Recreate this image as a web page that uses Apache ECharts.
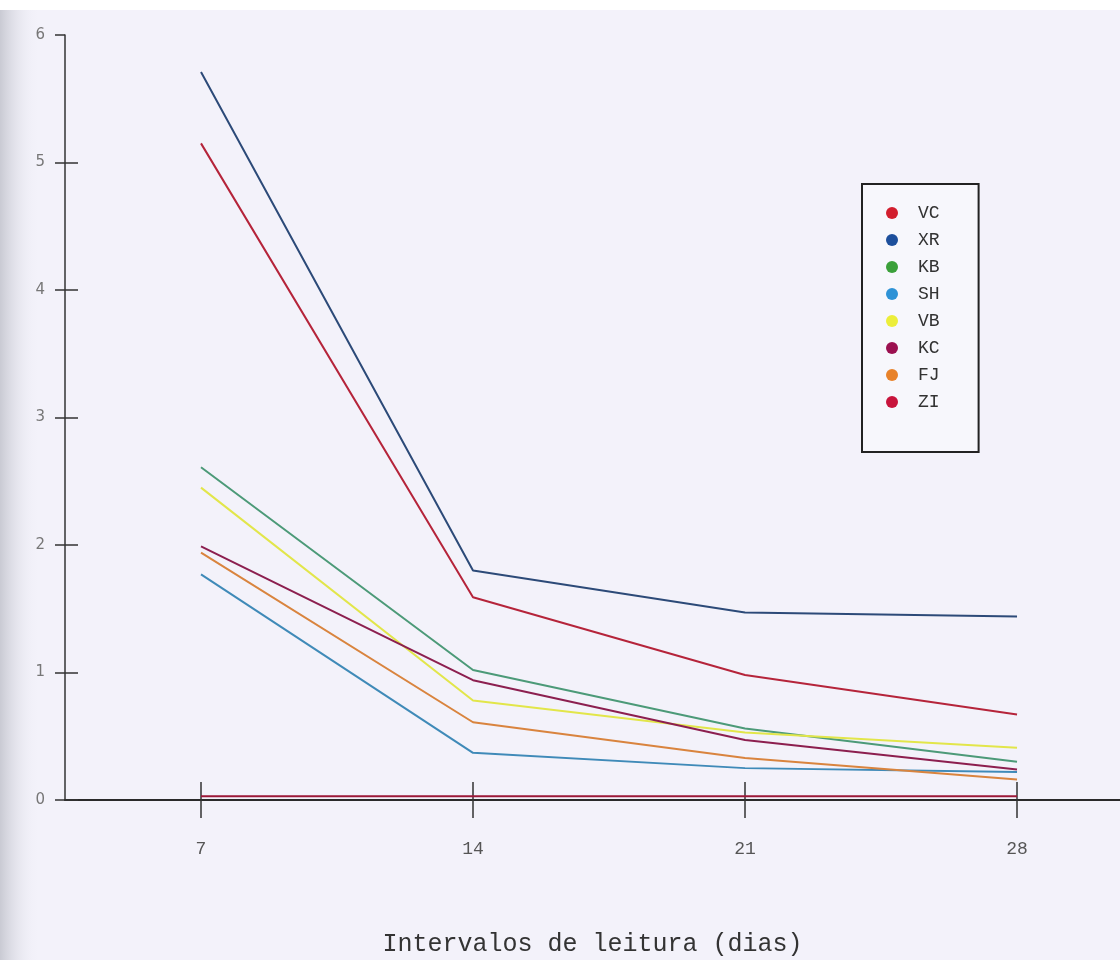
<!DOCTYPE html>
<html>
<head>
<meta charset="utf-8">
<script src="https://cdn.jsdelivr.net/npm/echarts@6/dist/echarts.min.js"></script>
<style>
  html, body { margin: 0; padding: 0; background: #f3f2fa; }
  #main { width: 1120px; height: 960px; }
</style>
</head>
<body>
<div id="main"></div>
<script>
// dias de leitura
var days = [7, 14, 21, 28];
var yTicks = [0, 1, 2, 3, 4, 5, 6];

var names = ['VC', 'XR', 'KB', 'SH', 'VB', 'KC', 'FJ', 'ZI'];
var VC = [5.15, 1.59, 0.98, 0.67];
var XR = [5.71, 1.80, 1.47, 1.44];
var KB = [2.61, 1.02, 0.56, 0.30];
var SH = [1.77, 0.37, 0.25, 0.22];
var VB = [2.45, 0.78, 0.53, 0.41];
var KC = [1.99, 0.94, 0.47, 0.24];
var FJ = [1.94, 0.61, 0.33, 0.16];
var ZI = [0.03, 0.03, 0.03, 0.03];

var values = [VC, XR, KB, SH, VB, KC, FJ, ZI];
var lineColors = ['#b5243a', '#2c4a78', '#4c9a78', '#3f8ab8', '#e2e64a', '#8c1f4f', '#d9843e', '#9c1838'];
var dotColors = ['#d21e2e', '#1d4f9c', '#3ba03a', '#2e92d6', '#ecee3a', '#9b1050', '#e8822a', '#c8143c'];

var series = names.map(function (n, i) {
	return {
		name: n,
		type: 'line',
		symbol: 'none',
		color: lineColors[i],
		lineStyle: { width: 2, color: lineColors[i] },
		data: days.map(function (d, j) { return [d, values[i][j]]; })
	};
});

var option = {
	backgroundColor: '#f3f2fa',
	animation: false,
	graphic: [
		{
			type: 'rect', left: 0, top: 0, z: -10,
			shape: { width: 40, height: 960 },
			style: {
				fill: new echarts.graphic.LinearGradient(0, 0, 1, 0, [
					{ offset: 0, color: '#c9cad3' },
					{ offset: 1, color: 'rgba(243,242,250,0)' }
				])
			}
		},
		{
			type: 'rect', left: 0, top: 0, z: -9,
			shape: { width: 1120, height: 10 },
			style: { fill: '#ffffff' }
		}
	],
	grid: { left: 65, right: 0, top: 35, bottom: 160, outerBoundsMode: 'none' },
	legend: {
		orient: 'vertical',
		left: 862,
		top: 184,
		padding: [20, 39, 41, 24],
		itemGap: 9,
		itemWidth: 12,
		itemHeight: 12,
		icon: 'circle',
		borderColor: '#222',
		borderWidth: 2,
		backgroundColor: '#f7f7fc',
		textStyle: {
			fontFamily: 'Liberation Mono',
			fontSize: 18,
			lineHeight: 16,
			height: 16,
			color: '#333',
			padding: [0, 0, 0, 15]
		},
		data: names.map(function (n, i) {
			return { name: n, itemStyle: { color: dotColors[i] } };
		})
	},
	xAxis: [
		{
			type: 'value',
			position: 'bottom',
			min: 3.5,
			max: 30.65,
			name: 'Intervalos de leitura (dias)',
			nameLocation: 'middle',
			nameGap: 132,
			nameTextStyle: { fontFamily: 'Liberation Mono', fontSize: 25, color: '#333' },
			axisLine: { show: true, onZero: false, lineStyle: { color: '#333', width: 1.5 } },
			axisTick: { show: true, customValues: days, length: 18, inside: false, lineStyle: { color: '#333', width: 1.5 } },
			axisLabel: { customValues: days, margin: 40, fontFamily: 'Liberation Mono', fontSize: 18, color: '#555' },
			splitLine: { show: false }
		},
		{
			type: 'value',
			position: 'bottom',
			min: 3.5,
			max: 30.65,
			axisLine: { show: false },
			axisTick: { show: true, customValues: days, length: 18, inside: true, lineStyle: { color: '#333', width: 1.5 } },
			axisLabel: { show: false },
			splitLine: { show: false }
		},
		{
			type: 'value',
			position: 'top',
			min: 3.5,
			max: 30.65,
			axisLine: { show: true, lineStyle: { color: '#2a2a2a', width: 2 } },
			axisTick: { show: false },
			axisLabel: { show: false },
			splitLine: { show: false }
		}
	],
	yAxis: [
		{
			type: 'value',
			position: 'left',
			min: 0,
			max: 6,
			interval: 1,
			axisLine: { show: true, onZero: false, lineStyle: { color: '#333', width: 1.5 } },
			axisTick: { show: true, length: 10, lineStyle: { color: '#333', width: 1.5 } },
			axisLabel: { margin: 20, fontFamily: 'DejaVu Sans', fontSize: 15, color: '#777' },
			splitLine: { show: false }
		},
		{
			type: 'value',
			position: 'left',
			min: 0,
			max: 6,
			interval: 1,
			axisLine: { show: false },
			axisTick: { show: true, inside: true, length: 13, customValues: yTicks.slice(0, 6), lineStyle: { color: '#333', width: 1.5 } },
			axisLabel: { show: false },
			splitLine: { show: false }
		}
	],
	series: series
};

var myChart = echarts.init(document.getElementById('main'));
myChart.setOption(option);
</script>
</body>
</html>
